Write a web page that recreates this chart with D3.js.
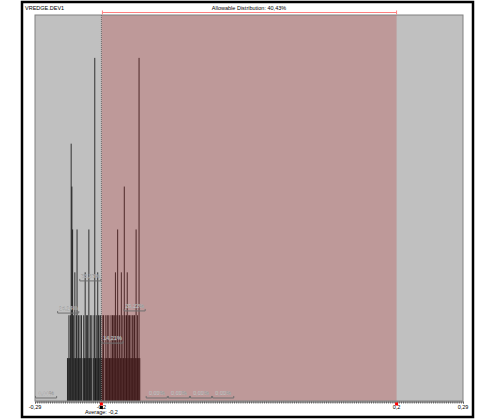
<!DOCTYPE html>
<html>
<head>
<meta charset="utf-8">
<script src="https://cdn.jsdelivr.net/npm/d3@7"></script>
<style>
  body { margin: 0; background: #fff; }
  text { font-family: "Liberation Sans", Arial, sans-serif; }
</style>
</head>
<body>
<svg width="478" height="419"></svg>
<script>
// Measured values and how many parts hit each one
const spikeValues = [
  -0.246, -0.245, -0.244, -0.243, -0.242, -0.241, -0.240, -0.239, -0.238, -0.237,
  -0.236, -0.235, -0.234, -0.233, -0.232, -0.231, -0.230, -0.229, -0.228, -0.227,
  -0.225, -0.224, -0.223, -0.222, -0.221, -0.220, -0.219, -0.218, -0.217, -0.216,
  -0.215, -0.214, -0.213, -0.211, -0.210, -0.209, -0.208, -0.207, -0.206, -0.205,
  -0.204, -0.203, -0.202, -0.201, -0.200, -0.199, -0.198, -0.197, -0.195, -0.194,
  -0.193, -0.192, -0.191, -0.190, -0.189, -0.188, -0.187, -0.186, -0.185, -0.184,
  -0.183, -0.182, -0.181, -0.180, -0.179, -0.178, -0.177, -0.176, -0.175, -0.174,
  -0.173, -0.172, -0.171, -0.170, -0.169, -0.168, -0.167, -0.166, -0.165, -0.164,
  -0.163, -0.162, -0.161, -0.160, -0.159, -0.158, -0.157, -0.156, -0.155, -0.154,
  -0.153, -0.152, -0.151, -0.150, -0.149, -0.148
];
const spikeCounts = [
  1, 1, 2, 1, 2, 6, 5, 4, 2, 1,
  3, 1, 2, 4, 1, 2, 1, 2, 1, 2,
  1, 2, 1, 3, 1, 2, 2, 1, 4, 1,
  2, 1, 2, 1, 2, 8, 1, 2, 1, 3,
  2, 1, 2, 2, 1, 1, 2, 2, 1, 2,
  1, 2, 1, 2, 1, 1, 2, 1, 2, 2,
  1, 2, 3, 1, 2, 4, 1, 2, 2, 1,
  3, 1, 2, 1, 5, 2, 1, 2, 3, 1,
  2, 2, 1, 2, 1, 2, 1, 2, 2, 1,
  4, 1, 2, 1, 8, 1
];

// Distribution classes (start value, label, label height in counts)
const binStarts = [-0.29, -0.26, -0.23, -0.20, -0.17, -0.14, -0.11, -0.08, -0.05];
const binLabels = ["0,00%", "26,24%", "33,33%", "14,21%", "26,22%", "0,00%", "0,00%", "0,00%", "0,00%"];
const binLevels = [0.07, 2.05, 2.8, 1.35, 2.1, 0.07, 0.07, 0.07, 0.07];
const binWidth = 0.03;

const lowerLimit = -0.2, upperLimit = 0.2;
const average = -0.2;
const tickValuesMain = [-0.29, -0.2, 0.2, 0.29];
const tickLabelsMain = ["-0,29", "-0,2", "0,2", "0,29"];
const title = "VREDGE.DEV1";
const allowableText = "Allowable Distribution: 40,43%";
const averageText = "Average: -0,2";

const svg = d3.select("svg");

// outer frame
svg.append("rect")
  .attr("x", 22).attr("y", 2).attr("width", 451).attr("height", 415)
  .attr("fill", "#fff").attr("stroke", "#000").attr("stroke-width", 2.5);

const x = d3.scaleLinear().domain([-0.29, 0.29]).range([35, 463]);
const y = d3.scaleLinear().domain([0, 9]).range([401, 15]);

// plot background
svg.append("rect")
  .attr("x", x.range()[0]).attr("y", y.range()[1])
  .attr("width", x.range()[1] - x.range()[0])
  .attr("height", y.range()[0] - y.range()[1])
  .attr("fill", "#c0c0c0");

// spikes
svg.append("g")
  .selectAll("line")
  .data(spikeValues)
  .enter().append("line")
  .attr("x1", d => x(d)).attr("x2", d => x(d))
  .attr("y1", y(0))
  .attr("y2", (d, i) => y(spikeCounts[i]))
  .style("stroke", "#000")
  .style("stroke-opacity", 0.75)
  .style("stroke-width", 1);

// allowed zone overlay
svg.append("rect")
  .attr("x", x(lowerLimit)).attr("y", y.range()[1])
  .attr("width", x(upperLimit) - x(lowerLimit))
  .attr("height", y.range()[0] - y.range()[1])
  .attr("fill", "#bb0000").attr("fill-opacity", 0.2);

// plot border
svg.append("rect")
  .attr("x", x.range()[0]).attr("y", y.range()[1])
  .attr("width", x.range()[1] - x.range()[0])
  .attr("height", y.range()[0] - y.range()[1])
  .attr("fill", "none").attr("stroke", "#808080").attr("stroke-width", 1);

// average line
svg.append("line")
  .attr("x1", x(average)).attr("x2", x(average))
  .attr("y1", y.range()[1]).attr("y2", y(0))
  .style("stroke", "#707070")
  .style("stroke-dasharray", "1,1");

// class brackets and labels
const bins = svg.append("g")
  .selectAll("g")
  .data(binStarts)
  .enter().append("g");

bins.append("path")
  .attr("d", (d, i) => {
    const x0 = x(d) + 0.5, x1 = x(d + binWidth) - 0.5, yy = y(binLevels[i]);
    return `M${x0},${yy - 2}V${yy}H${x1}V${yy - 2}`;
  })
  .attr("fill", "none")
  .style("stroke", "#707070")
  .style("stroke-width", 1);

bins.append("text")
  .attr("x", d => x(d + binWidth / 2))
  .attr("y", (d, i) => y(binLevels[i]) - 3)
  .attr("text-anchor", "middle")
  .attr("font-size", 5.5)
  .attr("fill", "#f0f0f0")
  .attr("stroke", "#8a8a8a")
  .attr("stroke-width", 0.25)
  .text((d, i) => binLabels[i]);

// x axis minor ticks
const minor = d3.axisBottom(x)
  .tickValues(d3.range(0, 201).map(k => -0.29 + k * 0.0029))
  .tickSize(2)
  .tickFormat("");
const ga = svg.append("g").attr("transform", `translate(0,${y(0) + 0.5})`).call(minor);
ga.select(".domain").attr("stroke", "#606060");
ga.selectAll(".tick line").attr("stroke", "#606060");

// main tick labels
svg.append("g")
  .selectAll("text")
  .data(tickValuesMain)
  .enter().append("text")
  .attr("x", d => x(d))
  .attr("y", 409)
  .attr("text-anchor", "middle")
  .attr("font-size", 5.5)
  .attr("fill", "#000")
  .text((d, i) => tickLabelsMain[i]);

// spec limit markers
svg.append("g")
  .selectAll("rect")
  .data([lowerLimit, upperLimit])
  .enter().append("rect")
  .attr("x", d => x(d) - 1.5).attr("y", y(0) + 1.5)
  .attr("width", 3).attr("height", 3)
  .attr("fill", "#ff0000");

// average marker
svg.append("rect")
  .attr("x", x(average) - 1.5).attr("y", y(0) + 5)
  .attr("width", 3).attr("height", 3)
  .attr("fill", "#000");

svg.append("text")
  .attr("x", x(average))
  .attr("y", 414)
  .attr("text-anchor", "middle")
  .attr("font-size", 5.5)
  .text(averageText);

// title
svg.append("text")
  .attr("x", 25).attr("y", 10)
  .attr("font-size", 5.5)
  .text(title);

// allowable distribution arrow
const ay = 12.5;
svg.append("path")
  .attr("d", `M${x(lowerLimit) + 1},${ay - 2}V${ay + 2}M${x(lowerLimit) + 1},${ay}H${x(upperLimit)}M${x(upperLimit)},${ay - 2}V${ay + 2}`)
  .attr("fill", "none")
  .style("stroke", "#ff7f7f")
  .style("stroke-width", 1);

svg.append("text")
  .attr("x", (x(lowerLimit) + x(upperLimit)) / 2)
  .attr("y", 9.5)
  .attr("text-anchor", "middle")
  .attr("font-size", 5.5)
  .text(allowableText);
</script>
</body>
</html>
